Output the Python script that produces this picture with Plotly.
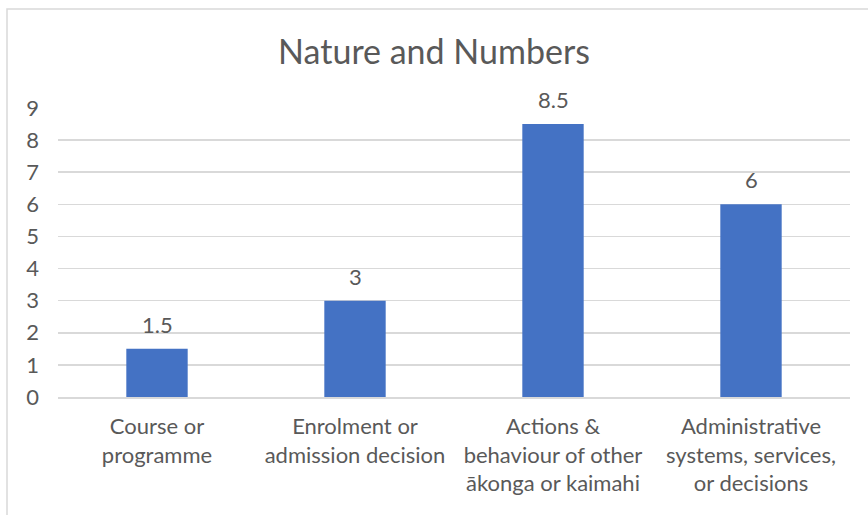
import plotly.graph_objects as go

categories = [
    "Course or<br>programme",
    "Enrolment or<br>admission decision",
    "Actions &<br>behaviour of other<br>ākonga or kaimahi",
    "Administrative<br>systems, services,<br>or decisions",
]
values = [1.5, 3, 8.5, 6]
value_labels = ["1.5", "3", "8.5", "6"]
y_ticks = [0, 1, 2, 3, 4, 5, 6, 7, 8, 9]

W, H = 868, 515
L, R, T, B = 58, 18, 108, 118
pw, ph = W - L - R, H - T - B

FONT = "Lato"
GRAY = "#595959"

fig = go.Figure()
fig.add_trace(go.Bar(
    x=categories, y=values,
    marker=dict(color="#4472C4", line=dict(width=0)),
    width=0.31,
    hoverinfo="skip",
))

for c, v, t in zip(categories, values, value_labels):
    fig.add_annotation(x=c, y=v, text=t, showarrow=False, yanchor="bottom",
                       yshift=9, font=dict(family=FONT, size=22, color=GRAY))

# chart-area border (light gray), partially outside the image like the reference
bx0 = (7 - L) / pw
by1 = 1 + (T - 9) / ph
fig.add_shape(type="rect", xref="paper", yref="paper",
              x0=bx0, x1=1 + (R + 40) / pw, y0=-(B + 40) / ph, y1=by1,
              line=dict(color="#D9D9D9", width=1.5), layer="below")

fig.update_layout(
    width=W, height=H,
    margin=dict(l=L, r=R, t=T, b=B, autoexpand=False),
    paper_bgcolor="white", plot_bgcolor="white",
    showlegend=False,
    title=dict(text="Nature and Numbers", x=0.5, xanchor="center",
               y=1 - 52 / H, yanchor="middle",
               font=dict(family=FONT, size=34, color=GRAY)),
    font=dict(family=FONT, size=22, color=GRAY),
    xaxis=dict(showgrid=False, showline=True, linecolor="#D9D9D9", linewidth=1.5,
               ticks="", tickfont=dict(family=FONT, size=22, color=GRAY),
               ticklabelstandoff=9),
    yaxis=dict(range=[0, 9], tickvals=y_ticks, showgrid=True, gridcolor="#D9D9D9",
               gridwidth=1.5, zeroline=False, showline=False, ticks="",
               tickfont=dict(family=FONT, size=22, color=GRAY), ticklabelstandoff=18),
)

fig.write_html("out.html", config={"displayModeBar": False, "staticPlot": True},
               post_script="document.body.style.margin='0';document.body.style.overflow='hidden';")
